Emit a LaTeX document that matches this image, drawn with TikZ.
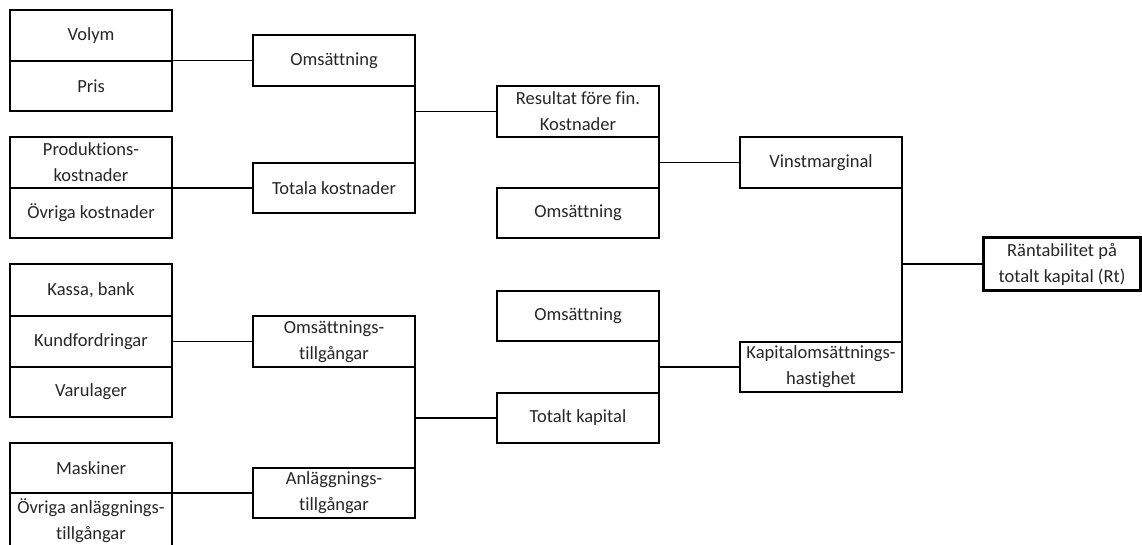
\documentclass[tikz,border=0pt]{standalone}
\usepackage{fontspec}
\setmainfont{Carlito}[Ligatures=NoCommon]
\begin{document}
\begin{tikzpicture}[x=1pt,y=-1pt,
  cell/.style={draw=black,line width=1.1pt,inner sep=0pt,outer sep=0pt,minimum width=162pt,align=center,
    font=\fontsize{18.5}{26}\selectfont,text=black!85},
  line/.style={draw=black,line width=1.1pt}]
\useasboundingbox (0,0) rectangle (1142,544);
% column 1
\node[cell,minimum height=51pt] (volym) at (91,35.5) {Volym};
\node[cell,minimum height=50pt] (pris) at (91,86) {Pris};
\node[cell,minimum height=51pt] (prod) at (91,162.5) {Produktions-\\kostnader};
\node[cell,minimum height=50pt] (ovrk) at (91,213) {Övriga kostnader};
\node[cell,minimum height=52pt] (kassa) at (91,290) {Kassa, bank};
\node[cell,minimum height=51pt] (kund) at (91,341.5) {Kundfordringar};
\node[cell,minimum height=50pt] (varu) at (91,392) {Varulager};
\node[cell,minimum height=50pt] (mask) at (91,468) {Maskiner};
\node[cell,minimum height=55pt] (ovra) at (91,520.5) {Övriga anläggnings-\\tillgångar};
% column 2
\node[cell,minimum height=51pt] (oms1) at (334,60.5) {Omsättning};
\node[cell,minimum height=50pt] (totk) at (334,188) {Totala kostnader};
\node[cell,minimum height=51pt] (omst) at (334,341.5) {Omsättnings-\\tillgångar};
\node[cell,minimum height=50pt] (anl) at (334,493) {Anläggnings-\\tillgångar};
% column 3
\node[cell,minimum height=51pt] (res) at (578,111.5) {Resultat före fin.\\Kostnader};
\node[cell,minimum height=50pt] (oms2) at (578,213) {Omsättning};
\node[cell,minimum height=50pt] (oms3) at (578,316) {Omsättning};
\node[cell,minimum height=50pt] (totkap) at (578,418) {Totalt kapital};
% column 4
\node[cell,minimum height=51pt] (vinst) at (821,162.5) {Vinstmarginal};
\node[cell,minimum height=50pt] (kap) at (821,367) {Kapitalomsättnings-\\hastighet};
% result
\node[cell,line width=2.2pt,minimum width=157pt,minimum height=53pt] (rt) at (1062,264) {Räntabilitet på\\totalt kapital (Rt)};
% connectors
\draw[line] (oms1.west) -- (oms1.west -| volym.east);
\draw[line] (totk.west) -- (totk.west -| prod.east);
\draw[line] (omst.west) -- (omst.west -| kund.east);
\draw[line] (anl.west) -- (anl.west -| mask.east);
\draw[line] (oms1.south east) -- (totk.north east);
\draw[line] (res.west) -- (res.west -| oms1.east);
\draw[line] (omst.south east) -- (anl.north east);
\draw[line] (totkap.west) -- (totkap.west -| omst.east);
\draw[line] (res.south east) -- (oms2.north east);
\draw[line] (vinst.west) -- (vinst.west -| res.east);
\draw[line] (oms3.south east) -- (totkap.north east);
\draw[line] (kap.west) -- (kap.west -| oms3.east);
\draw[line] (vinst.south east) -- (kap.north east);
\draw[line] (rt.west) -- (rt.west -| vinst.east);
\end{tikzpicture}
\end{document}
